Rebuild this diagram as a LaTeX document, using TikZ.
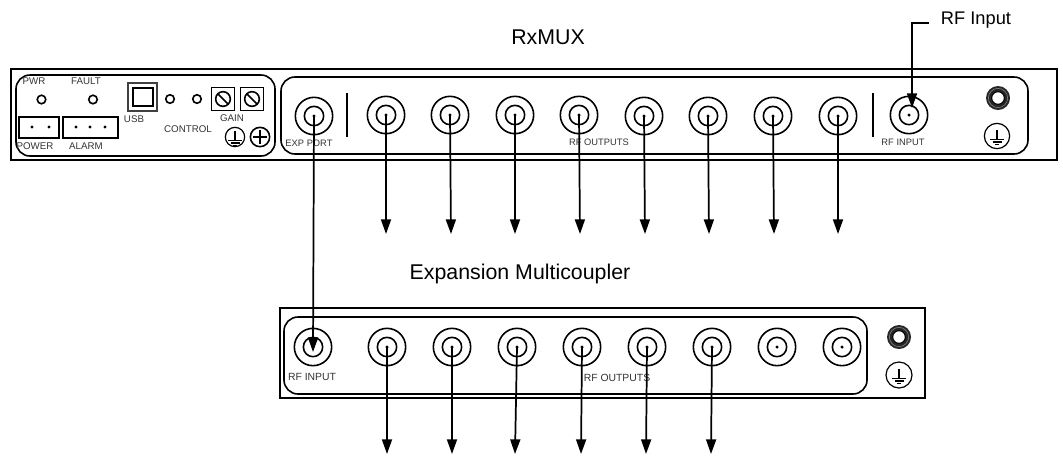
\documentclass[tikz,border=0pt]{standalone}
\usepackage{fontspec}
\setmainfont{Liberation Sans}
\usetikzlibrary{arrows.meta}
\tikzset{
  panel/.style={draw=black,line width=1.5pt},
  inner panel/.style={draw=black,line width=1.2pt,rounded corners=10.5pt},
  ring/.style={circle,draw=black,line width=1.2pt,inner sep=0pt,minimum size=#1},
  ringo/.style={ring=28pt},
  ringi/.style={ring=14.5pt},
  led/.style={ring=6.4pt},
  pin/.style={circle,fill=black,inner sep=0pt,minimum size=2.6pt},
  smalltxt/.style={font=\fontsize{7}{8}\selectfont,text=black!80,inner sep=0pt},
  lefttxt/.style={font=\fontsize{7.3}{8}\selectfont,text=black!80,inner sep=0pt},
  bottxt/.style={font=\fontsize{7.8}{9}\selectfont,text=black!80,inner sep=0pt},
  bigtxt/.style={font=\fontsize{16}{18}\selectfont,inner sep=0pt},
  calltxt/.style={font=\fontsize{13.7}{16}\selectfont,inner sep=0pt},
  boxline/.style={draw=black,line width=1.2pt},
  signal/.style={draw=black,line width=1.3pt,-{Triangle[length=11pt,width=7.5pt]}},
}
\newcommand{\coax}[3]{%
  \node[ringo] at (#2,#3) {};
  \node[ringi] at (#2,#3) {};
  \node[pin] (#1) at (#2,#3) {};}
\newcommand{\gnd}[4]{%
  \node[ring=#4,line width=0.9pt] (#1) at (#2,#3) {};
  \draw[line width=0.8pt] (#2,#3-6) -- (#2,#3+3.5);
  \draw[line width=0.8pt] (#2-7,#3+3.5) -- (#2+7,#3+3.5);
  \draw[line width=0.8pt] (#2-4.5,#3+6) -- (#2+4.5,#3+6);
  \draw[line width=0.8pt] (#2-2,#3+8.5) -- (#2+2,#3+8.5);}
\newcommand{\nut}[3]{%
  \node[circle,fill=black!85,inner sep=0pt,minimum size=18pt] (#1) at (#2,#3) {};
  \node[circle,draw=black!45,line width=0.4pt,inner sep=0pt,minimum size=14.5pt] at (#2,#3) {};
  \node[circle,fill=white,draw=black,line width=0.8pt,inner sep=0pt,minimum size=9.5pt] at (#2,#3) {};}
\newcommand{\trim}[3]{%
  \node[boxline,minimum size=17.5pt,inner sep=0pt] (#1) at (#2,#3) {};
  \node[ring=11pt] at (#2,#3) {};
  \draw[line width=1.1pt] (#2-5,#3-5) -- (#2+5,#3+5);}
\begin{document}
\begin{tikzpicture}[x=0.75pt,y=-0.75pt]
\useasboundingbox (0,0) rectangle (1063,455);
% top panel
\node[bigtxt] (title1) at (548,37) {RxMUX};
\draw[panel] (11,69) rectangle (1057,160);
\draw[inner panel] (16,75) rectangle (275,156);
\draw[inner panel] (281,77) rectangle (1028,154);
% status section
\node[lefttxt] (tpwr) at (34,81) {PWR};
\node[lefttxt] (tfault) at (86,81) {FAULT};
\node[led] (ledp) at (41.5,99.5) {};
\node[led] (ledf) at (93,99.5) {};
\draw[boxline] (19,117) rectangle (59,138);
\draw[boxline] (63,117) rectangle (118,138);
\foreach \x in {32,49,76,90,105} \node[circle,fill=black,inner sep=0pt,minimum size=2.4pt] at (\x,127) {};
\node[lefttxt] (tpower) at (35,146) {POWER};
\node[lefttxt] (talarm) at (86,146) {ALARM};
\draw[boxline,draw=black!75] (128,83) rectangle (157,111);
\draw[line width=1.2pt] (133,88) rectangle (153,106);
\node[lefttxt] (tusb) at (134,119) {USB};
\node[led] (ledc1) at (170,99) {};
\node[led] (ledc2) at (197,99) {};
\node[lefttxt] (tcontrol) at (188,129) {CONTROL};
\trim{g1}{223}{99}
\trim{g2}{252}{99}
\node[lefttxt] (tgain) at (232,118) {GAIN};
\gnd{gl}{235}{137}{14.5pt}
\node[ring=14.5pt] (plus) at (260,137) {};
\draw[line width=1pt] (260,130) -- (260,144) (253,137) -- (267,137);
% top ports
\coax{exp}{314}{116}
\coax{a1}{386}{115}
\coax{a2}{450}{115}
\coax{a3}{515}{115}
\coax{a4}{579}{115}
\coax{a5}{644}{116}
\coax{a6}{708}{116}
\coax{a7}{773}{116}
\coax{a8}{838}{116}
\coax{rfa}{909}{115}
\draw[line width=1.2pt] (347,93) -- (347,137);
\draw[line width=1.2pt] (873,93) -- (873,137);
\node[smalltxt] (texp) at (309,143) {EXP PORT};
\node[smalltxt] (touta) at (599,142) {RF OUTPUTS};
\node[smalltxt] (tina) at (903,142) {RF INPUT};
\nut{nuta}{998}{98}
\gnd{gra}{997}{136}{19pt}
% RF Input callout
\node[calltxt] (rfin) at (976,20) {RF Input};
\coordinate (rfstart) at (929,23);
\coordinate (rfbend) at (912,23);
\coordinate (rftip) at (912,108);
\draw[signal] (rfstart) -- (rfbend) -- (rftip);
% bottom panel
\node[bigtxt] (title2) at (520,274) {Expansion Multicoupler};
\draw[panel] (280,308) rectangle (925,398);
\draw[inner panel] (284,317) rectangle (867,394);
\coax{rfb}{313}{347}
\coax{b1}{387}{347}
\coax{b2}{452}{347}
\coax{b3}{517}{347}
\coax{b4}{582}{347}
\coax{b5}{647}{347}
\coax{b6}{712}{347}
\coax{b7}{777}{347}
\coax{b8}{842}{347}
\node[bottxt] (tinb) at (312,377) {RF INPUT};
\node[bottxt] (toutb) at (617,378) {RF OUTPUTS};
\nut{nutb}{899}{337}
\gnd{grb}{899}{375}{19.5pt}
% output ends
\foreach \n/\x in {1/386,2/451,3/515,4/580,5/645,6/709,7/774,8/838}
  \coordinate (ta\n) at (\x,234);
\foreach \n/\x in {1/387,2/452,3/515,4/581,5/646,6/711}
  \coordinate (tb\n) at (\x,454);
\coordinate (exptip) at (313,352);
% connectors
\foreach \n in {1,...,8} \draw[signal] (a\n.center) -- (ta\n);
\foreach \n in {1,...,6} \draw[signal] (b\n.center) -- (tb\n);
\draw[signal] (exp.center) -- (exptip);
\end{tikzpicture}
\end{document}
